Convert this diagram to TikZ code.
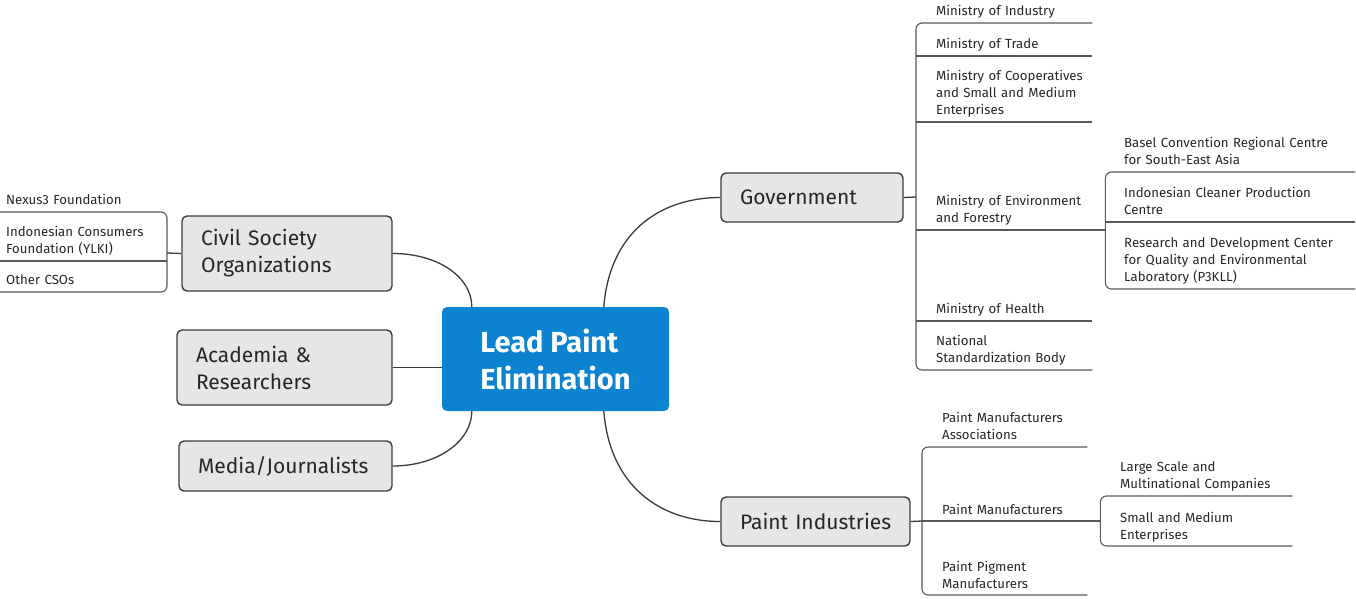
\documentclass[tikz,border=0pt]{standalone}
\usepackage{fontspec}
\setmainfont{Fira Sans}
\usetikzlibrary{calc}
\definecolor{hubblue}{HTML}{0B83D1}
\definecolor{topicfill}{HTML}{E6E6E6}
\definecolor{topicline}{HTML}{3C3C3C}
\definecolor{wire}{HTML}{3A3A3A}
\begin{document}
\begin{tikzpicture}[
  x=1pt, y=-1pt,
  hub/.style={fill=hubblue, rounded corners=5pt, minimum width=227pt, minimum height=104pt, align=left, text=white, font=\bfseries\fontsize{29}{37}\selectfont},
  topic/.style={draw=topicline, fill=topicfill, line width=1.4pt, rounded corners=5pt, inner xsep=19pt, inner ysep=0pt, align=left, text=black!85, font=\fontsize{21}{27}\selectfont},
  leaf/.style={anchor=south west, align=left, inner xsep=0pt, inner ysep=4pt, font=\fontsize{13.2}{17}\selectfont, text=black!85, execute at end node={\vphantom{gy}}},
  link/.style={draw=wire, line width=1.3pt},
  bracketline/.style={draw=wire!85, line width=1.1pt, rounded corners=6pt},
]
\useasboundingbox (0,0) rectangle (1356,598);

\node[hub] (lpe) at (555.5,359) {Lead Paint\\Elimination};
\node[topic, text width=172pt, minimum height=75pt] (cso) at (287,253.5) {Civil Society\\Organizations};
\node[topic, text width=177pt, minimum height=75pt] (aca) at (284.5,367.5) {Academia \&\\Researchers};
\node[topic, text width=175pt, minimum height=50pt] (med) at (285.5,466) {\mbox{Media/Journalists}};
\node[topic, text width=144pt, minimum height=49pt] (gov) at (812,197.5) {Government};
\node[topic, text width=151pt, minimum height=49pt] (pnt) at (815.5,521.5) {\mbox{Paint Industries}};

\coordinate (lm) at (0,253);
\coordinate (cv) at (167,253);
\coordinate (gv) at (916,197);
\coordinate (pv) at (922,521);

\node[leaf, text width=161pt] (nex) at (6,212) {Nexus3 Foundation};
\node[leaf, text width=161pt] (ylk) at (6,261) {Indonesian Consumers\\Foundation (YLKI)};
\node[leaf, text width=161pt] (oth) at (6,292) {Other CSOs};

\node[leaf, text width=156pt] (ind) at (936,23) {Ministry of Industry};
\node[leaf, text width=156pt] (trd) at (936,56) {Ministry of Trade};
\node[leaf, text width=156pt] (coo) at (936,122) {Ministry of Cooperatives\\and Small and Medium\\Enterprises};
\node[leaf, text width=169pt] (env) at (936,230) {Ministry of Environment\\and Forestry};
\node[leaf, text width=156pt] (hlt) at (936,321) {Ministry of Health};
\node[leaf, text width=156pt] (nsb) at (936,370) {National\\Standardization Body};

\node[leaf, text width=231pt] (bas) at (1124,172) {Basel Convention Regional Centre\\for South-East Asia};
\node[leaf, text width=231pt] (cpc) at (1124,222) {Indonesian Cleaner Production\\Centre};
\node[leaf, text width=231pt] (rdc) at (1124,289) {Research and Development Center\\for Quality and Environmental\\Laboratory (P3KLL)};

\node[leaf, text width=145pt] (pma) at (942,447) {Paint Manufacturers\\Associations};
\node[leaf, text width=158pt] (pmf) at (942,521) {Paint Manufacturers};
\node[leaf, text width=145pt] (ppm) at (942,595) {Paint Pigment\\Manufacturers};

\node[leaf, text width=172pt] (lsc) at (1120,496) {Large Scale and\\Multinational Companies};
\node[leaf, text width=172pt] (sme) at (1120,546) {Small and Medium\\Enterprises};

\draw[bracketline] (lm |- nex.south) -- (cv |- nex.south) -- (cv |- oth.south) -- (lm |- oth.south);
\draw[bracketline] (lm |- ylk.south) -- (cv |- ylk.south);
\draw[link] (cso.west) -- (cv);

\draw[bracketline] (ind.south east) -- (gv |- ind.south) -- (gv |- nsb.south) -- (nsb.south east);
\foreach \n in {trd,coo,env,hlt}
  \draw[bracketline] (gv |- \n.south) -- (\n.south east);
\draw[link] (gov.east) -- (gv);

\draw[bracketline] (bas.south east) -- (env.south east |- bas.south) -- (env.south east |- rdc.south) -- (rdc.south east);
\draw[bracketline] (env.south east |- cpc.south) -- (cpc.south east);

\draw[bracketline] (pma.south east) -- (pv |- pma.south) -- (pv |- ppm.south) -- (ppm.south east);
\draw[bracketline] (pv |- pmf.south) -- (pmf.south east);
\draw[link] (pnt.east) -- (pv);

\draw[bracketline] (lsc.south east) -- (pmf.south east |- lsc.south) -- (pmf.south east |- sme.south) -- (sme.south east);

\draw[link] (cso.east) .. controls +(45,0) and +(0,-30) .. ($(lpe.north west)+(30,0)$);
\draw[link] (aca.east) -- (aca.east -| lpe.west);
\draw[link] (med.east) .. controls +(45,0) and +(0,30) .. ($(lpe.south west)+(30,0)$);
\draw[link] ($(lpe.north west)+(162,0)$) .. controls +(6,-75) and +(-60,0) .. (gov.west);
\draw[link] ($(lpe.south west)+(162,0)$) .. controls +(6,75) and +(-60,0) .. (pnt.west);
\end{tikzpicture}
\end{document}
